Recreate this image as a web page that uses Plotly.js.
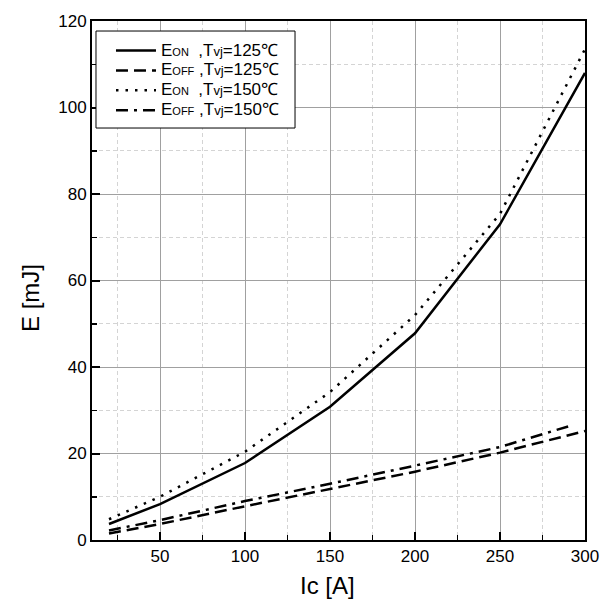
<!DOCTYPE html>
<html>
<head>
<meta charset="utf-8">
<script src="https://cdn.plot.ly/plotly-3.0.1.min.js"></script>
<style>html,body{margin:0;padding:0;background:#fff;}#chart{width:609px;height:612px;}</style>
</head>
<body>
<div id="chart"></div>
<script>
const ic = [20, 50, 100, 150, 200, 250, 300];
const eonT125 = [3.7, 8.3, 17.8, 30.8, 47.8, 73, 108];
const eoffT125 = [1.5, 3.7, 7.8, 11.8, 15.8, 20.2, 25.2];
const eonT150 = [4.8, 10, 20.4, 34.2, 52, 75.4, 113.5];
const eoffT150 = [2.2, 4.6, 9.0, 13.0, 17.2, 21.5, 26.6];
const icDashDot = [20, 50, 100, 150, 200, 250, 293];

const names = [
  '<span style="font-size:17px">E</span><span style="font-size:11px">ON</span><span style="font-size:17px">&nbsp;&nbsp;,T</span><span style="font-size:13px">vj</span><span style="font-size:17px">=125℃</span>',
  '<span style="font-size:17px">E</span><span style="font-size:11px">OFF</span><span style="font-size:17px">&nbsp;,T</span><span style="font-size:13px">vj</span><span style="font-size:17px">=125℃</span>',
  '<span style="font-size:17px">E</span><span style="font-size:11px">ON</span><span style="font-size:17px">&nbsp;&nbsp;,T</span><span style="font-size:13px">vj</span><span style="font-size:17px">=150℃</span>',
  '<span style="font-size:17px">E</span><span style="font-size:11px">OFF</span><span style="font-size:17px">&nbsp;,T</span><span style="font-size:13px">vj</span><span style="font-size:17px">=150℃</span>'
];

const traces = [
  {x: ic, y: eonT125, name: names[0], mode: 'lines', line: {color: '#000', width: 2.5, dash: 'solid'}},
  {x: ic, y: eoffT125, name: names[1], mode: 'lines', line: {color: '#000', width: 2.5, dash: '12px,6px'}},
  {x: ic, y: eonT150, name: names[2], mode: 'lines', line: {color: '#000', width: 2.5, dash: '2.5px,7px'}},
  {x: icDashDot, y: eoffT150, name: names[3], mode: 'lines', line: {color: '#000', width: 2.5, dash: '12px,6px,3px,6px'}}
];

const fam = 'Liberation Sans, Arial, sans-serif';

const layout = {
  width: 609, height: 612,
  margin: {l: 92, r: 24, t: 21, b: 72},
  paper_bgcolor: '#fff', plot_bgcolor: '#fff',
  font: {family: fam, color: '#000'},
  showlegend: true,
  legend: {
    x: 0.0385, y: 0.972, xanchor: 'left', yanchor: 'top',
    bgcolor: 'rgba(0,0,0,0)', borderwidth: 0,
    itemwidth: 40,
    font: {family: fam, size: 13, color: '#000'},
    tracegroupgap: 0
  },
  shapes: [
    {type: 'rect', xref: 'paper', yref: 'paper', x0: 0.0081, x1: 0.4118, y0: 0.7938, y1: 0.9807,
     line: {color: '#000', width: 1}, fillcolor: '#fff', layer: 'above'}
  ],
  annotations: [
    {text: 'Ic [A]', xref: 'paper', yref: 'paper', x: 0.478, y: -0.088, xanchor: 'center', yanchor: 'middle',
     showarrow: false, font: {family: fam, size: 24, color: '#000'}},
    {text: 'E [mJ]', xref: 'paper', yref: 'paper', x: -0.125, y: 0.467, xanchor: 'center', yanchor: 'middle',
     textangle: -90, showarrow: false, font: {family: fam, size: 24, color: '#000'}}
  ],
  xaxis: {
    range: [10, 300], tickvals: [50, 100, 150, 200, 250, 300],
    ticks: 'inside', ticklen: 8, tickwidth: 2, tickcolor: '#000',
    showline: true, linecolor: '#000', linewidth: 2, mirror: true,
    showgrid: true, gridcolor: '#a0a0a0', gridwidth: 1,
    zeroline: false,
    tickfont: {family: fam, size: 17, color: '#000'},
    minor: {dtick: 25, tick0: 0, ticks: 'inside', ticklen: 5, tickwidth: 1.5, tickcolor: '#000',
            showgrid: true, gridcolor: '#d4d4d4', griddash: '4px,3px', gridwidth: 1}
  },
  yaxis: {
    range: [0, 120], tickvals: [0, 20, 40, 60, 80, 100, 120],
    ticks: 'inside', ticklen: 8, tickwidth: 2, tickcolor: '#000',
    showline: true, linecolor: '#000', linewidth: 2, mirror: true,
    showgrid: true, gridcolor: '#a0a0a0', gridwidth: 1,
    zeroline: false,
    tickfont: {family: fam, size: 17, color: '#000'},
    minor: {dtick: 10, tick0: 0, ticks: 'inside', ticklen: 5, tickwidth: 1.5, tickcolor: '#000',
            showgrid: true, gridcolor: '#d4d4d4', griddash: '4px,3px', gridwidth: 1}
  }
};

Plotly.newPlot('chart', traces, layout, {displayModeBar: false, staticPlot: true});
</script>
</body>
</html>
